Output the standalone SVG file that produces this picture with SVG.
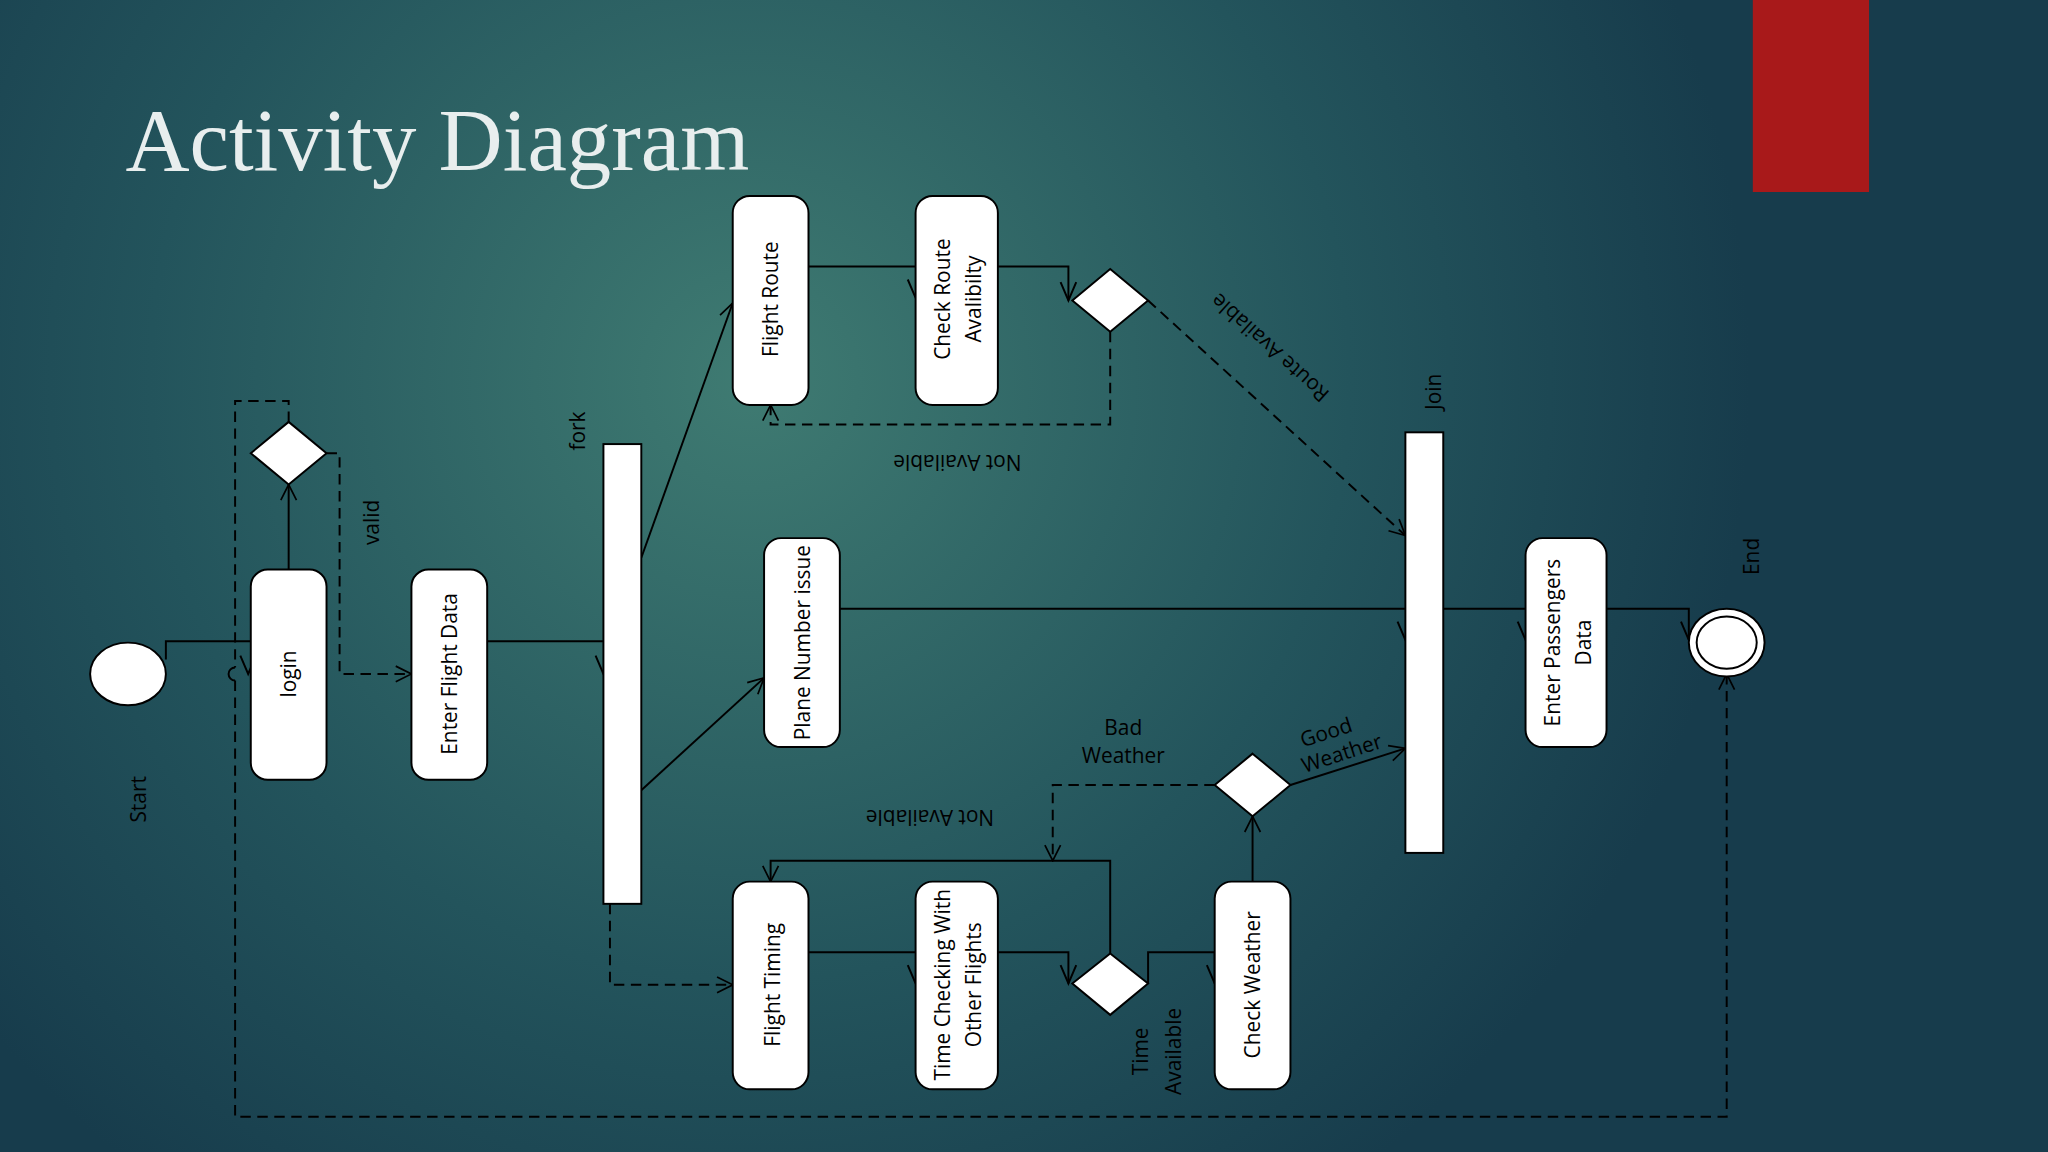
<svg xmlns="http://www.w3.org/2000/svg" width="2048" height="1152" viewBox="0 0 2048 1152">
<defs>
<radialGradient id="bg" cx="750" cy="380" r="1000" gradientUnits="userSpaceOnUse">
<stop offset="0" stop-color="#3f7b72"/><stop offset="0.6" stop-color="#23545c"/><stop offset="1" stop-color="#173c4c"/>
</radialGradient>
<marker id="ar" viewBox="0 0 14 14" refX="13" refY="7" markerWidth="14" markerHeight="14" markerUnits="userSpaceOnUse" orient="auto"><path d="M1,1 L13,7 L1,13" fill="none" stroke="#000" stroke-width="1.3"/></marker>
<style>
.n{fill:#fff;stroke:#000;stroke-width:1.5}
.c{fill:none;stroke:#000;stroke-width:1.5}
.d{fill:none;stroke:#000;stroke-width:1.5;stroke-dasharray:8 5}
.t{font-family:"Open Sans","DejaVu Sans",sans-serif;font-size:16px;fill:#000;text-anchor:middle}
</style>
</defs>
<rect width="2048" height="1152" fill="url(#bg)"/>
<g transform="scale(1.30612)">
<rect x="1342" y="0" width="89" height="147" fill="#a8191a"/>
<text x="96" y="130" font-family="Liberation Serif,serif" font-size="68" fill="#e8eeee">Activity Diagram</text>

<g id="connectors">
<path class="c" d="M127,505 V491 H192"/><path class="c" d="M184,502 L190,516 L196,502"/>
<path class="c" d="M221,436 V371" marker-end="url(#ar)"/>
<path class="d" d="M221,323 V307 H180 V511 M180,521 V855 H1322 V516" marker-end="url(#ar)"/>
<path class="c" d="M180,511 A5,5 0 0 0 180,521"/>
<path class="d" d="M250,347 H260 V516 H315" marker-end="url(#ar)"/>
<path class="c" d="M373,491 H462"/><path class="c" d="M456,502 L462,516 L468,502"/>
<path class="c" d="M491,427 L561,232" marker-end="url(#ar)"/>
<path class="c" d="M491,605 L585,519" marker-end="url(#ar)"/>
<path class="d" d="M467,692 V754 H561" marker-end="url(#ar)"/>
<path class="c" d="M619,204 H701"/><path class="c" d="M695,214 L701,228 L707,214"/>
<path class="c" d="M764,204 H818 V230"/><path class="c" d="M812,216 L818,230 L824,216"/>
<path class="d" d="M850,254 V325 H590 V310" marker-end="url(#ar)"/>
<path class="d" d="M879,230 L1076,410" marker-end="url(#ar)"/>
<path class="c" d="M643,466 H1076"/><path class="c" d="M1070,476 L1076,490 L1082,476"/>
<path class="c" d="M1105,466 H1168"/><path class="c" d="M1162,476 L1168,490 L1174,476"/>
<path class="c" d="M1230,466 H1293 V490"/><path class="c" d="M1287,476 L1293,490 L1299,476"/>
<path class="c" d="M619,729 H701"/><path class="c" d="M695,739 L701,753 L707,739"/>
<path class="c" d="M764,729 H818 V753"/><path class="c" d="M812,739 L818,753 L824,739"/>
<path class="c" d="M850,730 V659 H590 V675" marker-end="url(#ar)"/>
<path class="c" d="M879,753 V729 H930 V753"/><path class="c" d="M924,739 L930,753 L936,739"/>
<path class="c" d="M959,675 V625" marker-end="url(#ar)"/>
<path class="d" d="M930,601 H806 V659" marker-end="url(#ar)"/>
<path class="c" d="M988,601 L1076,573" marker-end="url(#ar)"/>
</g>

<g id="start"><ellipse class="n" cx="98" cy="516" rx="29" ry="24"/><text class="t" transform="translate(112,612) rotate(-90)">Start</text></g>
<g id="login"><rect class="n" x="192" y="436" width="58" height="161" rx="13"/><text class="t" transform="translate(227,516) rotate(-90)">login</text></g>
<g id="dec1"><path class="n" d="M221,323 L250,347 L221,371 L192,347 Z"/><text class="t" transform="translate(290,400) rotate(-90)">valid</text></g>
<g id="enterflight"><rect class="n" x="315" y="436" width="58" height="161" rx="13"/><text class="t" transform="translate(350,516) rotate(-90)">Enter Flight Data</text></g>
<g id="fork"><rect class="n" x="462" y="340" width="29" height="352"/><text class="t" transform="translate(448,330) rotate(-90)">fork</text></g>
<g id="flightroute"><rect class="n" x="561" y="150" width="58" height="160" rx="13"/><text class="t" transform="translate(596,229) rotate(-90)">Flight Route</text></g>
<g id="checkroute"><rect class="n" x="701" y="150" width="63" height="160" rx="13"/><text class="t" transform="translate(727,229) rotate(-90)">Check Route</text><text class="t" transform="translate(751,229) rotate(-90)">Avalibilty</text></g>
<g id="dec2"><path class="n" d="M850,206 L879,230 L850,254 L821,230 Z"/>
<text class="t" transform="translate(733,348) rotate(180)">Not Available</text>
<text class="t" transform="translate(976,262) rotate(222)">Route Available</text></g>
<g id="plane"><rect class="n" x="585" y="412" width="58" height="160" rx="13"/><text class="t" transform="translate(620,492) rotate(-90)">Plane Number issue</text></g>
<g id="join"><rect class="n" x="1076" y="331" width="29" height="322"/><text class="t" transform="translate(1103,300) rotate(-90)">Join</text></g>
<g id="passengers"><rect class="n" x="1168" y="412" width="62" height="160" rx="13"/><text class="t" transform="translate(1194,492) rotate(-90)">Enter Passengers</text><text class="t" transform="translate(1218,492) rotate(-90)">Data</text></g>
<g id="end"><ellipse class="n" cx="1322" cy="492" rx="29" ry="26" stroke-width="2.5"/><ellipse class="n" cx="1322" cy="492" rx="23" ry="20"/><text class="t" transform="translate(1347,426) rotate(-90)">End</text></g>
<g id="flighttiming"><rect class="n" x="561" y="675" width="58" height="159" rx="13"/><text class="t" transform="translate(597,754) rotate(-90)">Flight Timing</text></g>
<g id="timecheck"><rect class="n" x="701" y="675" width="63" height="159" rx="13"/><text class="t" transform="translate(727,754) rotate(-90)">Time Checking With</text><text class="t" transform="translate(751,754) rotate(-90)">Other Flights</text></g>
<g id="dec3"><path class="n" d="M850,730 L879,753 L850,777 L821,753 Z"/><text class="t" transform="translate(879,805) rotate(-90)">Time</text><text class="t" transform="translate(904,805) rotate(-90)">Available</text></g>
<g id="checkweather"><rect class="n" x="930" y="675" width="58" height="159" rx="13"/><text class="t" transform="translate(965,754) rotate(-90)">Check Weather</text></g>
<g id="dec4"><path class="n" d="M959,577 L988,601 L959,625 L930,601 Z"/>
<text class="t" x="860" y="563">Bad</text><text class="t" x="860" y="584">Weather</text>
<text class="t" transform="translate(712,620) rotate(180)">Not Available</text>
<text class="t" transform="translate(1017,566) rotate(-18)">Good</text><text class="t" transform="translate(1029,582) rotate(-18)">Weather</text></g>
</g>
</svg>
